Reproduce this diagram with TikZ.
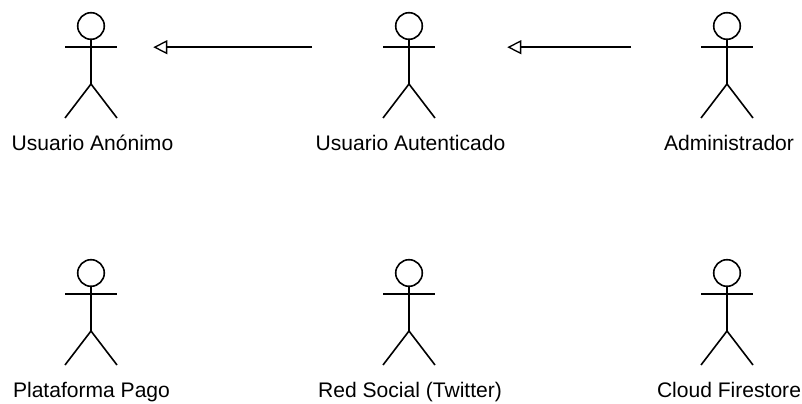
\documentclass[tikz,border=0pt]{standalone}
\usepackage{fontspec}
\setmainfont{Liberation Sans}
\usetikzlibrary{arrows.meta}
\tikzset{
  limb/.style={draw=black,line width=1.2pt},
  lbl/.style={inner sep=0pt,font=\fontsize{15.8}{18}\selectfont,text=black,anchor=base},
  inh/.style={draw=black,line width=1.2pt,-{Triangle[open,length=10.5pt,width=10.5pt,line width=1pt,fill=white]}}
}
\newcommand{\stick}[3]{%
  \coordinate (#1) at (#2,#3);
  \coordinate (#1L) at (#2-26,#3+21.2);
  \coordinate (#1R) at (#2+26,#3+21.2);
  \draw[limb] (#1) circle (13.3);
  \draw[limb] (#2,#3+13.3) -- (#2,#3+58);
  \draw[limb] (#1L) -- (#1R);
  \draw[limb] (#2-26,#3+92) -- (#2,#3+58) -- (#2+26,#3+92);
}
\begin{document}
\begin{tikzpicture}[x=0.75pt,y=-0.75pt]
\useasboundingbox (0,0) rectangle (802,403);
\stick{a}{91}{26}
\stick{b}{409}{26}
\stick{c}{727}{26}
\stick{d}{91}{273}
\stick{e}{409}{273}
\stick{f}{727}{273}
\node[lbl] (la) at (92.5,150.7) {Usuario Anónimo};
\node[lbl] (lb) at (410.5,150.7) {Usuario Autenticado};
\node[lbl] (lc) at (729,150.7) {Administrador};
\node[lbl] (ld) at (91.5,397.7) {Plataforma Pago};
\node[lbl] (le) at (410,397.7) {Red Social (Twitter)};
\node[lbl] (lf) at (729,397.7) {Cloud Firestore};
\draw[inh,shorten <=53.25pt,shorten >=27.2pt] (bL) -- (aR);
\draw[inh,shorten <=52.5pt,shorten >=54.2pt] (cL) -- (bR);
\end{tikzpicture}
\end{document}
